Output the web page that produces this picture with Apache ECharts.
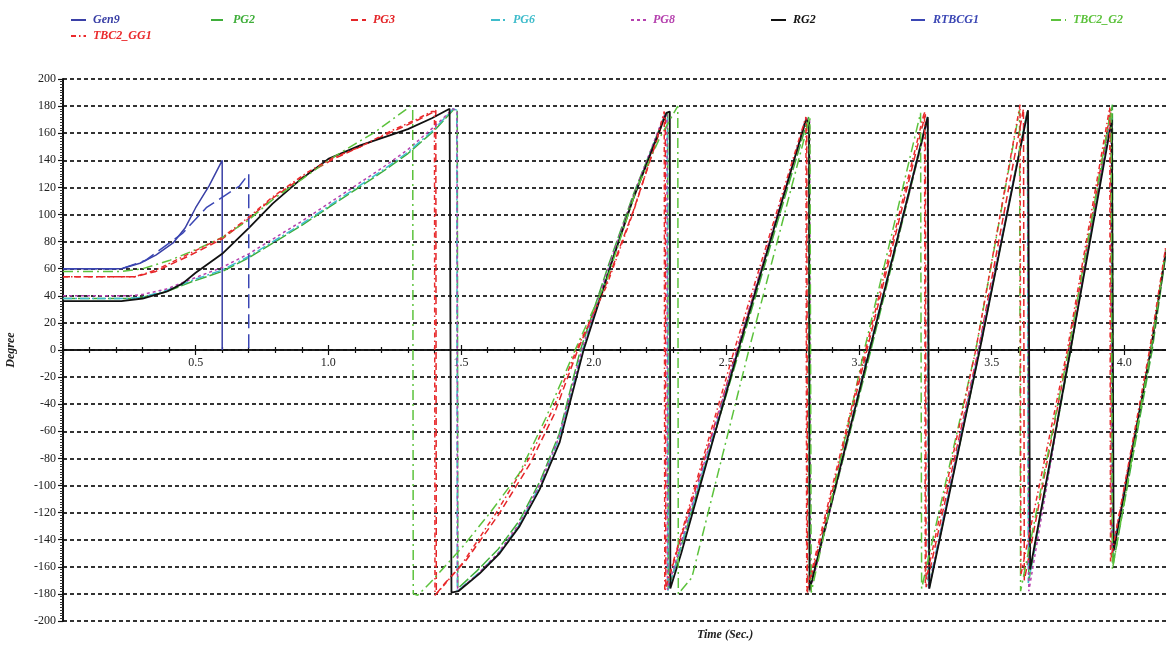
<!DOCTYPE html>
<html>
<head>
<meta charset="utf-8">
<script src="https://cdn.jsdelivr.net/npm/echarts@6/dist/echarts.min.js"></script>
<style>html,body{margin:0;padding:0;background:#fff}#c{width:1166px;height:645px}</style>
</head>
<body>
<div id="c"></div>
<script>
// ---- data: [time (s), angle (deg)] ----
const seriesNames = ['Gen9','PG2','PG3','PG6','PG8','RG2','RTBCG1','TBC2_G2','TBC2_GG1'];

const gen9 = [[0,60],[0.22,60],[0.29,64],[0.35,70],[0.415,79],[0.46,90],[0.5,105],[0.55,121],[0.6,140],[0.6,0]];

const rtbcg1 = [[0,60],[0.22,60],[0.31,66],[0.45,86],[0.54,105],[0.665,121],[0.70,130],[0.70,0]];

const pg2 = [[0,38],[0.25,38],[0.3,39],[0.39,43],[0.48,50],[0.6,58],[0.7,68],[0.8,80],[0.9,92],[1.0,105],[1.1,118],[1.2,131],[1.3,145],[1.4,162],[1.47,177],[1.486,176],[1.488,-176],
  [1.56,-163],[1.64,-147],[1.72,-126],[1.80,-96],[1.87,-62],[1.95,0],[2.06,65],[2.15,115],[2.27,174],[2.279,175],[2.281,-177],
  [2.55,0],[2.81,172],[2.813,-178],
  [3.045,0],[3.26,172],[3.264,-176],
  [3.455,0],[3.635,177],[3.64,-170],
  [3.798,0],[3.955,181],[3.958,-158],
  [4.105,0],[4.156,70]];

const pg3 = [[0,54],[0.27,54],[0.35,58],[0.48,70],[0.6,82],[0.7,97],[0.79,112],[0.92,130],[1.02,141],[1.12,150],[1.24,161],[1.33,169],[1.39,175],[1.405,177],[1.407,-180],
  [1.44,-172],[1.52,-155],[1.64,-122],[1.76,-84],[1.85,-48],[1.94,0],[2.05,50],[2.15,103],[2.24,156],[2.27,174],[2.272,-176],
  [2.54,0],[2.803,171],[2.806,-179],
  [3.03,0],[3.25,174],[3.253,-175],
  [3.45,0],[3.62,178],[3.623,-170],
  [3.79,0],[3.948,176],[3.951,-152],
  [4.10,0],[4.156,74]];

const pg6 = [[0,38],[0.25,38],[0.3,39],[0.39,44],[0.48,51],[0.6,59],[0.7,69],[0.8,81],[0.9,93],[1.0,106],[1.1,119],[1.2,132],[1.3,146],[1.4,163],[1.47,178],[1.484,177],[1.486,-178],
  [1.57,-164],[1.645,-149],[1.72,-129],[1.80,-99],[1.87,-65],[1.958,0],[2.065,64],[2.15,113],[2.268,173],[2.278,172],[2.28,-178],
  [2.543,0],[2.80,170],[2.812,169],[2.814,-177],
  [3.038,0],[3.258,172],[3.261,-176],
  [3.452,0],[3.635,176],[3.638,-172],
  [3.796,0],[3.952,171],[3.955,-150],
  [4.10,0],[4.156,73]];

const pg8 = [[0,40],[0.25,40],[0.3,41],[0.39,45],[0.48,52],[0.6,61],[0.7,71],[0.8,83],[0.9,95],[1.0,108],[1.1,121],[1.2,134],[1.3,148],[1.4,165],[1.47,178],[1.485,176],[1.487,-178],
  [1.56,-166],[1.64,-150],[1.72,-128],[1.80,-98],[1.87,-64],[1.955,0],[2.06,63],[2.15,114],[2.265,173],[2.276,174],[2.278,-177],
  [2.54,0],[2.80,171],[2.814,170],[2.816,-178],
  [3.04,0],[3.26,171],[3.263,-176],
  [3.45,0],[3.636,176],[3.64,-178],
  [3.795,0],[3.95,171],[3.955,-150],
  [4.10,0],[4.156,73]];

const rg2 = [[0,36],[0.22,36],[0.3,38],[0.39,43],[0.45,49],[0.5,57],[0.6,71],[0.7,90],[0.79,108],[0.89,125],[1.0,141],[1.12,151],[1.24,159],[1.3,163],[1.39,171],[1.457,178],[1.464,-179],
  [1.49,-178],[1.57,-165],[1.646,-150],[1.721,-130],[1.796,-103],[1.872,-68],[1.962,0],[2.072,67],[2.148,111],[2.274,175],[2.287,176],[2.289,-176],
  [2.33,-150],[2.545,0],[2.80,170],[2.812,168],[2.814,-177],
  [3.04,0],[3.259,172],[3.265,-176],
  [3.455,0],[3.637,177],[3.645,-162],
  [3.797,0],[3.953,170],[3.96,-148],
  [4.10,0],[4.156,72]];

const tbc2G2 = [[0,58],[0.22,58],[0.3,60],[0.4,66],[0.5,74],[0.6,83],[0.7,96],[0.79,111],[0.9,126],[1.0,140],[1.1,152],[1.17,160],[1.24,170],[1.31,180],[1.318,178],[1.32,-180],
  [1.337,-181],[1.383,-172],[1.507,-145],[1.61,-120],[1.72,-91],[1.82,-50],[1.93,0],[2.05,52],[2.16,118],[2.25,157],[2.317,180],[2.319,-180],
  [2.37,-168],[2.585,0],[2.815,172],[2.82,-179],
  [3.02,0],[3.232,175],[3.236,-176],
  [3.44,0],[3.605,177],[3.609,-178],
  [3.79,0],[3.95,178],[3.955,-162],
  [4.10,0],[4.156,74]];

const tbc2GG1 = [[0,54],[0.27,54],[0.35,59],[0.48,71.5],[0.6,83],[0.7,98],[0.79,113],[0.92,131],[1.02,142],[1.12,150],[1.24,162],[1.33,170],[1.39,176],[1.40,176],[1.402,-181],
  [1.43,-175],[1.507,-157],[1.633,-120],[1.76,-79],[1.85,-42],[1.935,0],[2.048,47],[2.148,101],[2.237,155],[2.266,176],[2.268,-178],
  [2.53,0],[2.80,172],[2.803,-178],
  [3.025,0],[3.247,176],[3.25,-172],
  [3.44,0],[3.607,181],[3.61,-166],
  [3.785,0],[3.945,179],[3.948,-156],
  [4.095,0],[4.156,76]];

const seriesData = [gen9, pg2, pg3, pg6, pg8, rg2, rtbcg1, tbc2G2, tbc2GG1];
const seriesColors = ['#3a40a6','#3fae3a','#e42528','#3fbccb','#b540ae','#111111','#3a46b4','#5cc23c','#ea2a2c'];
const seriesDash = ['solid',[12,3],[7,4],[9,3,2,3],[3,3],'solid',[14,6],[10,4,2,4],[5,3,1.5,3]];
const seriesWidth = [1.5,1.5,1.5,1.5,1.5,1.8,1.5,1.5,1.5];
// legend slot (row, column) for each series
const legendRow = [0,0,0,0,0,0,0,0,1];
const legendCol = [0,1,2,3,4,5,6,7,0];

const serif = 'Liberation Serif';
const chart = echarts.init(document.getElementById('c'));

const legends = seriesNames.map((n, i) => ({
  left: 70 + 140 * legendCol[i], top: 14 + 16 * legendRow[i], padding: 0,
  itemWidth: 15, itemHeight: 8, selectedMode: false,
  itemStyle: {opacity: 0, borderWidth: 0},
  data: [{name: n, textStyle: {color: seriesColors[i]}}],
  textStyle: {fontFamily: serif, fontStyle: 'italic', fontWeight: 'bold', fontSize: 12, padding: [0,0,0,2]}
}));

const gridBox = {left: 63, right: -91, outerBoundsMode: 'none', containLabel: false};
const tickCommon = {
  type: 'value', min: 0, max: 4.5, interval: 0.5,
  axisLine: {show: true, onZero: false, lineStyle: {color: '#111', width: 1.5}},
  axisTick: {show: true, length: 5, lineStyle: {color: '#111', width: 1.2}},
  minorTick: {show: true, splitNumber: 5, length: 3, lineStyle: {color: '#111', width: 1.2}},
  splitLine: {show: false}
};

chart.setOption({
  animation: false,
  backgroundColor: '#fff',
  grid: [
    Object.assign({}, gridBox, {top: 79, bottom: 24}),
    Object.assign({}, gridBox, {top: 79, height: 271}),
    Object.assign({}, gridBox, {top: 350, bottom: 24})
  ],
  legend: legends,
  xAxis: [
    {gridIndex: 0, type: 'value', min: 0, max: 4.5, show: false},
    Object.assign({}, tickCommon, {
      gridIndex: 1, position: 'bottom',
      axisLabel: {formatter: v => v.toFixed(1), showMinLabel: false, showMaxLabel: false,
        color: '#222', fontFamily: serif, fontSize: 12, margin: 7}
    }),
    Object.assign({}, tickCommon, {gridIndex: 2, position: 'top', axisLabel: {show: false}})
  ],
  yAxis: [
    {
      gridIndex: 0, type: 'value', min: -200, max: 200, interval: 20,
      axisLine: {show: true, onZero: false, lineStyle: {color: '#111', width: 2}},
      axisTick: {show: true, length: 5, lineStyle: {color: '#111', width: 1.2}},
      minorTick: {show: true, splitNumber: 10, length: 3, lineStyle: {color: '#333', width: 1}},
      axisLabel: {color: '#222', fontFamily: serif, fontSize: 12, margin: 7},
      splitLine: {show: true, lineStyle: {color: '#333', type: [4,3], width: 1.8}},
      name: 'Degree', nameLocation: 'middle', nameGap: 46, nameRotate: 90,
      nameTextStyle: {fontStyle: 'italic', fontWeight: 'bold', fontFamily: serif, fontSize: 12, color: '#222'}
    },
    {gridIndex: 1, type: 'value', min: 0, max: 1, show: false},
    {gridIndex: 2, type: 'value', min: 0, max: 1, show: false}
  ],
  graphic: [{
    type: 'text', left: 697, top: 629,
    style: {text: 'Time (Sec.)', fill: '#222', font: 'italic bold 12px "Liberation Serif"'}
  }],
  series: seriesNames.map((n, i) => ({
    name: n, type: 'line', xAxisIndex: 0, yAxisIndex: 0, data: seriesData[i],
    symbol: 'none', showSymbol: false, smooth: false, clip: true,
    lineStyle: {color: seriesColors[i], width: seriesWidth[i], type: seriesDash[i]},
    itemStyle: {color: seriesColors[i]},
    emphasis: {disabled: true}
  }))
});
</script>
</body>
</html>
